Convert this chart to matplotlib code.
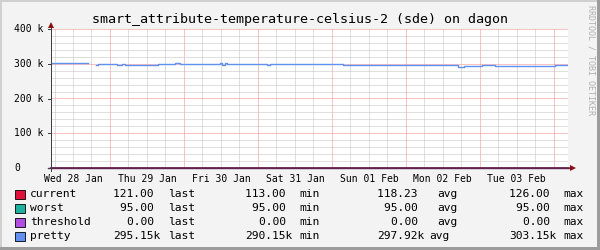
import datetime as dt
import numpy as np
import matplotlib
matplotlib.use("Agg")
import matplotlib.pyplot as plt
import matplotlib.dates as mdates
from matplotlib.patches import Rectangle, Polygon

# ---------------- data ----------------
title = "smart_attribute-temperature-celsius-2 (sde) on dagon"
t_origin = dt.datetime(2015, 1, 28, 0, 0)
t_start_h = 4.86
t_end_h = 172.6

# pretty series: step breakpoints (hours since Wed 28 Jan 00:00) and values (k)
pretty_hours = [4.86, 16.2, 16.9, 19.5, 20.1, 26.3, 27.9, 28.9, 39.6, 45.1, 46.7,
                59.7, 60.3, 61.3, 61.9, 74.9, 75.9, 97.9, 99.6, 136.5, 136.9,
                138.8, 144.6, 145.6, 146.6, 147.2, 147.9, 148.9, 168.3, 169.3, 172.9]
pretty_k = [303.15, 301.5, np.nan, 296.0, 299.0, 296.5, 300.0, 297.5, 300.0, 303.0, 300.0,
            302.0, 297.0, 302.0, 300.0, 297.0, 298.0, 300.0, 297.0, 295.5, 292.0,
            294.0, 297.0, 295.5, 297.0, 295.0, 297.0, 294.0, 297.0, 295.15, 295.15]

current_vals = [121.0, 121.0]
worst_vals = [95.0, 95.0]
threshold_vals = [0.0, 0.0]
flat_hours = [4.86, 172.9]

series_names = ["current", "worst", "threshold", "pretty"]
series_colors = ["#e0103c", "#1fb0a0", "#b050e0", "#6090f0"]
col_last = ["121.00", "95.00", "0.00", "295.15k"]
col_min = ["113.00", "95.00", "0.00", "290.15k"]
col_avg = ["118.23", "95.00", "0.00", "297.92k"]
col_max = ["126.00", "95.00", "0.00", "303.15k"]

yticks = [0, 100000, 200000, 300000, 400000]
ytick_labels = ["0", "100 k", "200 k", "300 k", "400 k"]

# ---------------- figure ----------------
W, H = 600, 250
fig = plt.figure(figsize=(6, 2.5), dpi=100)
fig.patch.set_facecolor("#f3f3f3")

def px(x, y):
    return x / W, 1 - y / H

# frame (3D shade)
for rect, col in [((0, 1 - 2 / H, 1, 2 / H), "#d0d0d0"),
                  ((0, 0, 2 / W, 1), "#d0d0d0"),
                  ((0, 0, 1, 3 / H), "#9c9c9c"),
                  ((1 - 3 / W, 0, 3 / W, 1), "#9c9c9c")]:
    fig.add_artist(Rectangle(rect[:2], rect[2], rect[3], transform=fig.transFigure,
                             facecolor=col, edgecolor="none", zorder=1))

L, R, T, B = 51, 568, 29, 168
ax = fig.add_axes([L / W, 1 - B / H, (R - L) / W, (B - T) / H])
ax.set_zorder(2)
ax.set_facecolor("white")
for s in ax.spines.values():
    s.set_visible(False)

def tconv(h):
    return [mdates.date2num(t_origin + dt.timedelta(hours=v)) for v in h]

x0, x1 = tconv([t_start_h, t_end_h])
ax.set_xlim(x0, x1)
ax.set_ylim(0, 400000)

mono = "DejaVu Sans Mono"
px_pt = 0.72  # one pixel in points

# grid
ax.xaxis.set_major_locator(mdates.DayLocator())
ax.xaxis.set_minor_locator(mdates.HourLocator(byhour=[6, 12, 18]))
ax.yaxis.set_major_locator(matplotlib.ticker.FixedLocator(yticks))
ax.yaxis.set_minor_locator(matplotlib.ticker.MultipleLocator(20000))
ax.grid(True, which="minor", color="#c0c0c0", linewidth=px_pt, linestyle=(0, (1, 1)))
ax.grid(True, which="major", color="#f08888", linewidth=px_pt, linestyle=(0, (1, 1)))
ax.set_axisbelow(True)
ax.tick_params(which="both", length=0, labelbottom=False, labelleft=False)

# series
ph = tconv(pretty_hours)
ax.step(ph, np.array(pretty_k) * 1000, where="post", color=series_colors[3], linewidth=1.0, zorder=3)
fh = tconv(flat_hours)
ax.plot(fh, current_vals, color=series_colors[0], linewidth=1.0, zorder=3)
ax.plot(fh, worst_vals, color=series_colors[1], linewidth=1.0, zorder=3)
ax.plot(fh, threshold_vals, color="#602050", linewidth=1.2, zorder=3, clip_on=False)

# axes lines and arrows (figure pixel coords)
def fline(xs, ys, **kw):
    fig.add_artist(matplotlib.lines.Line2D([x / W for x in xs], [1 - y / H for y in ys],
                                           transform=fig.transFigure, **kw))

fline([L, L], [B + 3, T - 1], color="#404040", linewidth=px_pt, zorder=5)
fline([L - 3, R + 2], [B, B], color="#602050", linewidth=1.0, zorder=5)
for v in yticks:
    yy = B - (B - T) * v / 400000
    fline([L - 3, L], [yy, yy], color="#404040", linewidth=px_pt, zorder=5)
fig.add_artist(Polygon([px(L - 3, T - 1), px(L + 3, T - 1), px(L, T - 7)], closed=True,
                       transform=fig.transFigure, facecolor="#8b1010", edgecolor="none", zorder=6))
fig.add_artist(Polygon([px(R + 2, B - 3), px(R + 2, B + 3), px(R + 8, B)], closed=True,
                       transform=fig.transFigure, facecolor="#8b1010", edgecolor="none", zorder=6))

# y labels (left aligned)
for v, lab in zip(yticks, ytick_labels):
    yy = B - (B - T) * v / 400000
    fig.text(14 / W, 1 - yy / H, lab, ha="left", va="center", fontsize=7, family=mono, color="black")

# x labels at noon
for d in range(7):
    xn = mdates.date2num(t_origin + dt.timedelta(days=d, hours=12))
    lab = (t_origin + dt.timedelta(days=d)).strftime("%a %d %b")
    ax.text(xn, -0.04, lab, transform=ax.get_xaxis_transform(), ha="center", va="top",
            fontsize=7, family=mono, color="black", clip_on=False)

# title
fig.text(300 / W, 1 - 19 / H, title, ha="center", va="center", fontsize=9.6, family=mono)

# vertical watermark
fig.text(591 / W, 1 - 60 / H, "RRDTOOL / TOBI OETIKER", rotation=270, ha="center", va="center",
         fontsize=6.0, family=mono, color="#b0b0b0")

# legend
row_y = [194, 208, 222, 236]
fs = 8.1
for i in range(4):
    y = 1 - row_y[i] / H
    fig.add_artist(Rectangle(((15) / W, 1 - (row_y[i] + 4.5) / H), 10 / W, 9 / H,
                             transform=fig.transFigure, facecolor=series_colors[i],
                             edgecolor="black", linewidth=0.6, zorder=5))
    fig.text(30 / W, y, series_names[i], ha="left", va="center", fontsize=fs, family=mono)
    def val(s, xr):
        txt = s if s.endswith("k") else s + " "
        fig.text(xr / W, y, txt, ha="right", va="center", fontsize=fs, family=mono)
    val(col_last[i], 160.7)
    fig.text(167.7 / W, y, "last", ha="left", va="center", fontsize=fs, family=mono)
    val(col_min[i], 292.3)
    fig.text(299.5 / W, y, "min", ha="left", va="center", fontsize=fs, family=mono)
    val(col_avg[i], 424.5)
    fig.text((429.3 if col_avg[i].endswith("k") else 437.7) / W, y, "avg", ha="left", va="center",
             fontsize=fs, family=mono)
    val(col_max[i], 556.7)
    fig.text(563.3 / W, y, "max", ha="left", va="center", fontsize=fs, family=mono)

fig.savefig("out.png", dpi=100, facecolor=fig.get_facecolor())
